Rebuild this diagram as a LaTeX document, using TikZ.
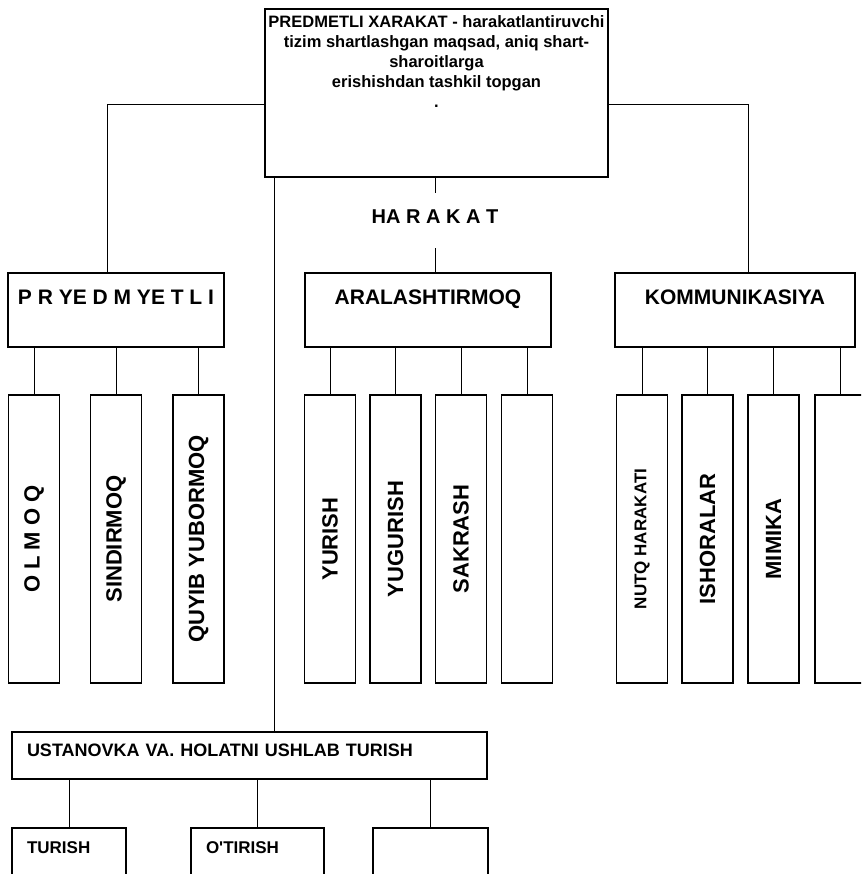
\documentclass[tikz,border=0pt]{standalone}
\usepackage{fontspec}
\setmainfont{Liberation Sans}
\usetikzlibrary{positioning}

\begin{document}
\begin{tikzpicture}[x=1pt,y=-1pt,on grid,node distance=66pt,
   headbox/.style={draw,line width=2.2pt,inner sep=0pt,font=\bfseries},
   catbox/.style={draw,line width=1.8pt,inner sep=0pt,minimum width=#1,text height=31pt,text depth=43pt,font=\bfseries\fontsize{21}{24}\selectfont},
   leafbox/.style={draw,line width=1.8pt,inner sep=0pt,minimum width=51pt,minimum height=288pt,font=\bfseries\fontsize{22}{24}\selectfont},
   lowbox/.style={draw,line width=1.5pt,inner ysep=0pt,inner xsep=15pt,text width=#1,align=left,text height=25pt,text depth=47pt,font=\bfseries\fontsize{17}{20}\selectfont},
   link/.style={line width=1pt}]
   \useasboundingbox (0,0) rectangle (861,874);
   \clip (0,0) rectangle (861,874);
   % top
   \node [headbox,minimum width=343pt,minimum height=168pt] (X_0) at (436.5,93)
      {\parbox[t][154pt][t]{341pt}{\centering\fontsize{16.5}{20}\selectfont
       PREDMETLI XARAKAT - harakatlantiruvchi\\ tizim shartlashgan maqsad, aniq shart-\\ sharoitlarga\\ erishishdan tashkil topgan\\ .}};
   \node [inner sep=0pt,text height=31pt,text depth=24pt,font=\bfseries\fontsize{20}{24}\selectfont] (H_0) at (435,220.5) {HA R A K A T};
   % groups
   \node [catbox=216pt] (P_0) at (116,310) {P R YE D M YE T L I};
   \node [catbox=246pt] (A_0) at (428,310) {ARALASHTIRMOQ};
   \node [catbox=240pt] (K_0) at (735,310) {KOMMUNIKASIYA};
   \node [draw,line width=1.3pt,minimum width=475pt,text width=445pt,inner xsep=15pt,inner ysep=0pt,align=left,text height=24.5pt,text depth=22.5pt,font=\bfseries\fontsize{18}{20}\selectfont] (U_0) at (249.5,755.5) {USTANOVKA VA. HOLATNI USHLAB TURISH};
   % leaves
   \node [leafbox] (P_1) at (34,539) {\rotatebox{90}{O L M O Q}};
   \node [leafbox] (P_2) [right=82pt of P_1] {\rotatebox{90}{SINDIRMOQ}};
   \node [leafbox] (P_3) [right=82.5pt of P_2] {\rotatebox{90}{QUYIB YUBORMOQ}};
   \node [leafbox] (A_1) at (330,539) {\rotatebox{90}{YURISH}};
   \node [leafbox] (A_2) [right=65.5pt of A_1] {\rotatebox{90}{YUGURISH}};
   \node [leafbox] (A_3) [right=65.5pt of A_2] {\rotatebox{90}{SAKRASH}};
   \node [leafbox] (A_4) [right= of A_3] {};
   \node [leafbox,font=\bfseries\fontsize{17}{20}\selectfont] (K_1) at (642,539) {\rotatebox{90}{NUTQ HARAKATI}};
   \node [leafbox] (K_2) [right=65.5pt of K_1] {\rotatebox{90}{ISHORALAR}};
   \node [leafbox] (K_3) [right= of K_2] {\rotatebox{90}{MIMIKA}};
   \node [leafbox] (K_4) [right=67pt of K_3] {};
   \node [lowbox=84pt] (U_1) at (69,864) {TURISH};
   \node [lowbox=103pt] (U_2) at (257.5,864) {O\textquotesingle TIRISH};
   \node [lowbox=85pt] (U_3) at (430.5,864) {};
   % connectors
   \draw [link] ([yshift=-12pt]X_0.west) -| ([xshift=-9pt]P_0.north);
   \draw [link] ([yshift=-12pt]X_0.east) -| ([xshift=13pt]K_0.north);
   \draw [link] (H_0.north) -- (H_0.north |- X_0.south);
   \draw [link] (H_0.south) -- (H_0.south |- A_0.north);
   \draw [link] ([xshift=-162.5pt]X_0.south) -- ([xshift=-162.5pt]X_0.south |- U_0.north);
   \draw [link] (P_1.north) -- (P_1.north |- P_0.south);
   \draw [link] (P_2.north) -- (P_2.north |- P_0.south);
   \draw [link] (P_3.north) -- (P_3.north |- P_0.south);
   \draw [link] (A_1.north) -- (A_1.north |- A_0.south);
   \draw [link] (A_2.north) -- (A_2.north |- A_0.south);
   \draw [link] (A_3.north) -- (A_3.north |- A_0.south);
   \draw [link] (A_4.north) -- (A_4.north |- A_0.south);
   \draw [link] (K_1.north) -- (K_1.north |- K_0.south);
   \draw [link] (K_2.north) -- (K_2.north |- K_0.south);
   \draw [link] (K_3.north) -- (K_3.north |- K_0.south);
   \draw [link] (K_4.north) -- (K_4.north |- K_0.south);
   \draw [link] (U_1.north) -- (U_1.north |- U_0.south);
   \draw [link] (U_2.north) -- (U_2.north |- U_0.south);
   \draw [link] (U_3.north) -- (U_3.north |- U_0.south);
\end{tikzpicture}
\end{document}
